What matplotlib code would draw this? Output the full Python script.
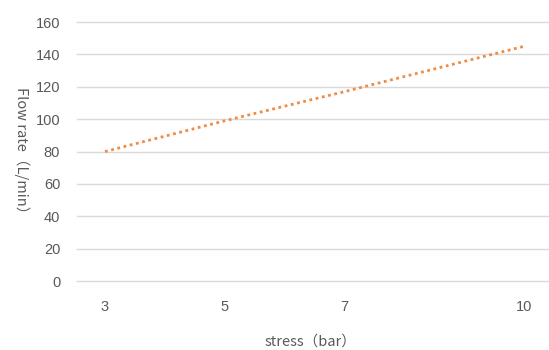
import matplotlib
matplotlib.use("Agg")
import matplotlib.pyplot as plt
from matplotlib import font_manager

stress = [3, 5, 7, 10]
flow = [80, 99, 117, 145]
x_ticks = [3, 5, 7, 10]
y_ticks = [0, 20, 40, 60, 80, 100, 120, 140, 160]

names = {f.name for f in font_manager.fontManager.ttflist}
tick_font = "Liberation Sans Narrow" if "Liberation Sans Narrow" in names else "Liberation Sans"

fig = plt.figure(figsize=(5.49, 3.5), dpi=100)
ax = fig.add_axes([0.140, 0.197, 0.858, 0.740])
ax.plot(stress, flow, linestyle=(0, (1, 1.3)), color="#F08A45", linewidth=2.0)
ax.set_xlim(2.53, 10.4)
ax.set_ylim(0, 160)
ax.set_xticks(x_ticks)
ax.set_yticks(y_ticks)
ax.set_xticklabels([str(v) for v in x_ticks], fontfamily=tick_font, fontsize=10.5, color="#595959")
ax.set_yticklabels([str(v) for v in y_ticks], fontfamily=tick_font, fontsize=10.5, color="#595959")
ax.tick_params(length=0, pad=12)
ax.tick_params(axis="x", pad=14)
ax.grid(axis="y", color="#D9D9D9", linewidth=1)
for gl in ax.get_ygridlines():
    gl.set_clip_on(False)
ax.set_axisbelow(True)
for s in ax.spines.values():
    s.set_visible(False)

fam = ["Noto Sans CJK SC", "DejaVu Sans"]
fig.text(0.04, 0.56, "Flow rate（L/min）", rotation=270, ha="center", va="center",
         family=fam, fontsize=10.5, color="#595959")
fig.text(0.565, 0.025, "stress（bar）", ha="center", va="center",
         family=fam, fontsize=10.5, color="#595959")

fig.savefig("out.png", dpi=100)
